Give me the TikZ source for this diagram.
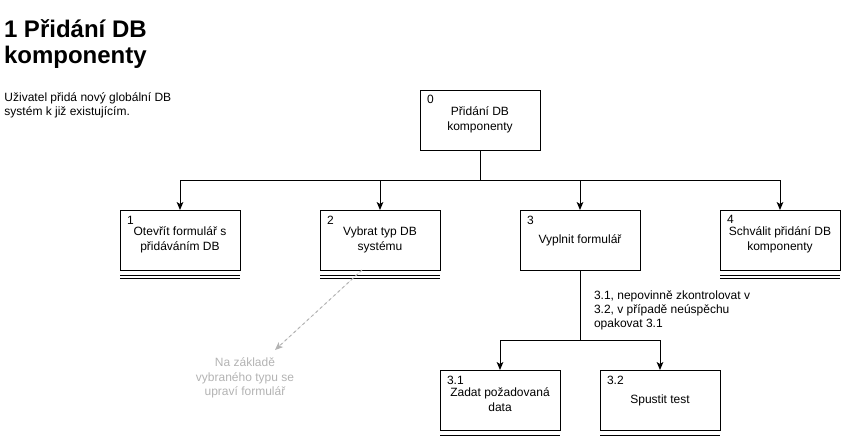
\documentclass[tikz,border=0pt]{standalone}
\usepackage{fontspec}
\setmainfont{Liberation Sans}
\usetikzlibrary{calc,arrows.meta}
\definecolor{notegray}{RGB}{179,179,179}
\begin{document}
\begin{tikzpicture}[x=0.75pt,y=-0.75pt,
  line width=0.75pt,
  every node/.style={inner sep=0pt, outer sep=0pt},
  box/.style={draw, minimum width=90pt, minimum height=45pt, align=center,
    font=\fontsize{9}{11.25}\selectfont},
  num/.style={anchor=base west, font=\fontsize{9}{11}\selectfont},
  arr/.style={-{Stealth[length=6pt,width=5pt,inset=1.5pt]}},
  notearr/.style={draw=notegray, dash pattern=on 2.25pt off 2.25pt,
    -{Stealth[length=6pt,width=5pt,inset=1.5pt]}, fill=notegray}
]
\useasboundingbox (0,0) rectangle (842,437);

% title and description
\node[anchor=west, align=left, font=\fontsize{18}{19.5}\selectfont\bfseries] (title) at (4,44) {1 Přidání DB\\komponenty};
\node[anchor=west, align=left, font=\fontsize{9}{10.5}\selectfont] (desc) at (4.5,105) {Uživatel přidá nový globální DB\\systém k již existujícím.};

% boxes
\node[box] (b0) at (480,120) {Přidání DB\\komponenty};
\node[box] (b1) at (180,240) {Otevřít formulář s\\přidáváním DB};
\node[box] (b2) at (380,240) {Vybrat typ DB\\systému};
\node[box] (b3) at (580,240) {Vyplnit formulář};
\node[box] (b4) at (780,240) {Schválit přidání DB\\komponenty};
\node[box] (b31) at (500,400) {Zadat požadovaná\\data};
\node[box] (b32) at (660,400) {Spustit test};

% numbers
\node[num] (n0) at ($(b0.north west)+(7,13.5)$) {0};
\node[num] (n1) at ($(b1.north west)+(7,14.5)$) {1};
\node[num] (n2) at ($(b2.north west)+(7,14.5)$) {2};
\node[num] (n3) at ($(b3.north west)+(7,14.5)$) {3};
\node[num] (n4) at ($(b4.north west)+(7,13.5)$) {4};
\node[num] (n31) at ($(b31.north west)+(7,14)$) {3.1};
\node[num] (n32) at ($(b32.north west)+(7,14)$) {3.2};

% double bottom lines
\foreach \b in {b1,b2,b4,b31,b32}{
  \draw ($(\b.south west)+(0,5.5)$) -- ($(\b.south east)+(0,5.5)$);
  \draw ($(\b.south west)+(0,8)$) -- ($(\b.south east)+(0,8)$);
}

% connectors level 1
\coordinate (bus) at (480,180);
\foreach \b in {b1,b2,b3,b4}{
  \draw[arr] (b0.south) -- (b0.south |- bus) -| (\b.north);
}

% connectors level 2
\coordinate (bus3) at (580,340);
\foreach \b in {b31,b32}{
  \draw[arr] (b3.south) -- (b3.south |- bus3) -| (\b.north);
}
\node[anchor=west, align=left, font=\fontsize{9}{10.5}\selectfont] (lbl) at (594,310) {3.1, nepovinně zkontrolovat v\\3.2, v případě neúspěchu\\opakovat 3.1};

% note
\node[align=center, text=notegray, font=\fontsize{9}{10.75}\selectfont] (note) at (245,378) {Na základě\\vybraného typu se\\upraví formulář};
\coordinate (nstart) at ($(b2.south west)!0.35!(b2.south east)$);
\coordinate (nend) at (275,350);
\draw[notearr] (nstart) -- (nend);
\end{tikzpicture}
\end{document}
